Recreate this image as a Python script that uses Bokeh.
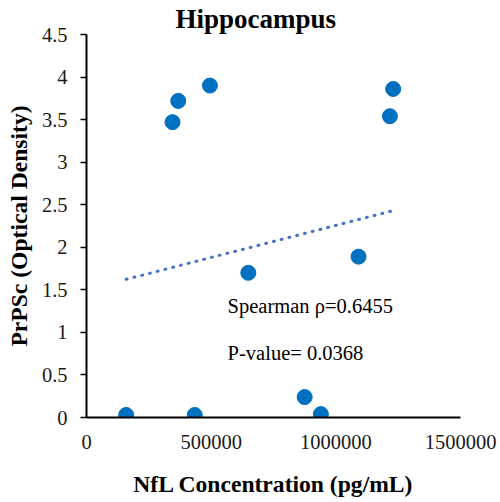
import numpy as np
from bokeh.plotting import figure
from bokeh.models import Range1d, FixedTicker, Label
from bokeh.embed import file_html
from bokeh.resources import INLINE

# Data
nfl_conc = [159000, 345000, 368000, 434000, 495000, 649000, 875000, 940000, 1091000, 1217000, 1230000]
prpsc_od = [0.03, 3.47, 3.72, 0.03, 3.90, 1.70, 0.24, 0.04, 1.89, 3.54, 3.86]

x_ticks = [0, 500000, 1000000, 1500000]
x_tick_labels = ["0", "500000", "1000000", "1500000"]
y_ticks = [0, 0.5, 1, 1.5, 2, 2.5, 3, 3.5, 4, 4.5]
y_tick_labels = ["0", "0.5", "1", "1.5", "2", "2.5", "3", "3.5", "4", "4.5"]

title_text = "Hippocampus"
x_label = "NfL Concentration (pg/mL)"
y_label = "PrPSc (Optical Density)"
stat_lines = ["Spearman \u03c1=0.6455", "P-value= 0.0368"]

SERIF = "Liberation Serif"

p = figure(width=500, height=502, output_backend="svg", toolbar_location=None,
           x_range=Range1d(0, 1500000), y_range=Range1d(0, 4.5),
           min_border_left=86, min_border_right=40, min_border_top=34, min_border_bottom=85,
           title=title_text)
p.outline_line_color = None
p.background_fill_color = "white"
p.border_fill_color = "white"
p.xgrid.visible = False
p.ygrid.visible = False

p.title.text_font = SERIF
p.title.text_font_size = "27px"
p.title.text_font_style = "bold"
p.title.align = "left"
p.title.offset = 89
p.title.standoff = 1
p.title.text_color = "black"

# axes
p.xaxis.ticker = FixedTicker(ticks=x_ticks)
p.xaxis.major_label_overrides = {t: l for t, l in zip(x_ticks, x_tick_labels)}
p.yaxis.ticker = FixedTicker(ticks=y_ticks)
p.yaxis.major_label_overrides = {t: l for t, l in zip(y_ticks, y_tick_labels)}
for ax in (p.xaxis[0], p.yaxis[0]):
    ax.axis_line_color = "black"
    ax.axis_line_width = 2
    ax.major_tick_line_color = "black"
    ax.major_tick_line_width = 1.5
    ax.minor_tick_line_color = None
    ax.major_tick_in = 0
    ax.major_label_text_font = SERIF
    ax.major_label_text_font_size = "20.5px"
    ax.major_label_text_color = "#1a1a1a"
    ax.axis_label_text_font = SERIF
    ax.axis_label_text_font_size = "23.6px"
    ax.axis_label_text_font_style = "bold"
    ax.axis_label_text_color = "black"
p.xaxis.major_tick_out = 0
p.yaxis.major_tick_out = 6
p.xaxis.major_label_standoff = 17
p.yaxis.major_label_standoff = 13
p.xaxis.axis_label = x_label
p.yaxis.axis_label = y_label
p.xaxis.axis_label_standoff = 19
p.yaxis.axis_label_standoff = 7

# linear trendline (least squares over the data)
slope, intercept = np.polyfit(np.array(nfl_conc, float), np.array(prpsc_od, float), 1)
xs = [min(nfl_conc), max(nfl_conc)]
ys = [slope * x + intercept for x in xs]
p.line(xs, ys, line_color="#4472C4", line_width=3, line_dash="1 7", line_cap="round")

p.scatter(nfl_conc, prpsc_od, size=15, marker="circle", fill_color="#0070C0", line_color="#0070C0")

p.add_layout(Label(x=566000, y=1.31, text=stat_lines[0], text_font=SERIF, text_font_size="20.5px",
                   text_baseline="alphabetic", text_align="left", text_color="black"))
p.add_layout(Label(x=566000, y=0.76, text=stat_lines[1], text_font=SERIF, text_font_size="20.5px",
                   text_baseline="alphabetic", text_align="left", text_color="black"))

open("out.html", "w").write(file_html(p, INLINE))
